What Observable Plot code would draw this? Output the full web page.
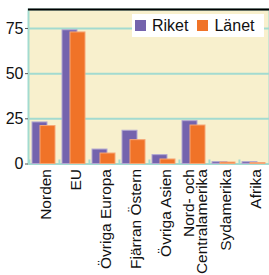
<!DOCTYPE html>
<html>
<head>
<meta charset="utf-8">
<script src="https://cdn.jsdelivr.net/npm/d3@7"></script>
<script src="https://cdn.jsdelivr.net/npm/@observablehq/plot@0.6"></script>
<style>
  body { margin: 0; background: #fff; }
  #wrap { position: relative; width: 269px; height: 275px; font-family: "Liberation Sans", Arial, sans-serif; }
  #legend { position: absolute; left: 132px; top: 14px; width: 132px; height: 23px; background: #fff;
            display: flex; align-items: center; font-size: 16px; color: #111; }
  #legend .item { display: flex; align-items: center; margin-left: 3px; margin-right: 6px; }
  #legend .sw { width: 11px; height: 11px; margin-right: 6px; }
</style>
</head>
<body>
<div id="wrap"></div>
<script>
const categories = ["Norden", "EU", "Övriga Europa", "Fjärran Östern", "Övriga Asien", "Nord- och\nCentralamerika", "Sydamerika", "Afrika"];
const series = ["Riket", "Länet"];
const riket = [23, 74, 8, 18.4, 4.9, 23.7, 1.0, 1.0];
const lanet = [21, 72.8, 5.8, 13.2, 2.5, 21.3, 0.8, 0.5];
const yTicks = [0, 25, 50, 75];
const yMax = 85.5;
const colors = ["#7463ad", "#f07328"];
const strokes = ["#b0a7d2", "#f6a676"];
const cream = "#f8f0cd";
const teal = "#a3dbd0";

const data = [];
categories.forEach((c, i) => {
  data.push({cat: c, series: series[0], value: riket[i]});
  data.push({cat: c, series: series[1], value: lanet[i]});
});

const W = 269, H = 275, mL = 28, mR = 0;
const band = (W - mL - mR) / categories.length;

const chart = Plot.plot({
  width: W,
  height: H,
  marginLeft: mL,
  marginRight: mR,
  marginTop: 9,
  marginBottom: 111.5,
  style: {fontFamily: "'Liberation Sans', Arial, sans-serif", fontSize: "16px", color: "#111", background: "transparent"},
  x: {domain: categories, padding: 0, label: null},
  y: {domain: [0, yMax], label: null},
  marks: [
    Plot.frame({fill: cream, stroke: teal, strokeWidth: 2}),
    Plot.ruleY(yTicks.filter(d => d > 0), {stroke: teal, strokeWidth: 2}),
    Plot.ruleY([yMax], {stroke: "#000", strokeWidth: 2}),
    Plot.barY(data.filter(d => d.series === series[0]), {x: "cat", y: "value", fill: colors[0], stroke: strokes[0], strokeWidth: 1, insetLeft: 3, insetRight: 12}),
    Plot.barY(data.filter(d => d.series === series[1]), {x: "cat", y: "value", fill: colors[1], stroke: strokes[1], strokeWidth: 1, insetLeft: 11, insetRight: 4}),
    Plot.axisX({ticks: categories, tickSize: -4, text: null, dx: -band / 2, stroke: teal, strokeWidth: 2}),
    Plot.axisX({tickRotate: -90, tickSize: 0, tickPadding: 5, dx: 2, fontSize: 15.5, lineHeight: 0.85, fill: "#111"}),
    Plot.axisY({ticks: yTicks, tickSize: 3, tickPadding: 2, fontSize: 16, stroke: "#555", fill: "#111"})
  ]
});

const wrap = document.getElementById("wrap");
wrap.appendChild(chart);

const legend = document.createElement("div");
legend.id = "legend";
series.forEach((s, i) => {
  const item = document.createElement("div");
  item.className = "item";
  const sw = document.createElement("span");
  sw.className = "sw";
  sw.style.background = colors[i];
  const t = document.createElement("span");
  t.textContent = s;
  item.appendChild(sw);
  item.appendChild(t);
  legend.appendChild(item);
});
wrap.appendChild(legend);
</script>
</body>
</html>
